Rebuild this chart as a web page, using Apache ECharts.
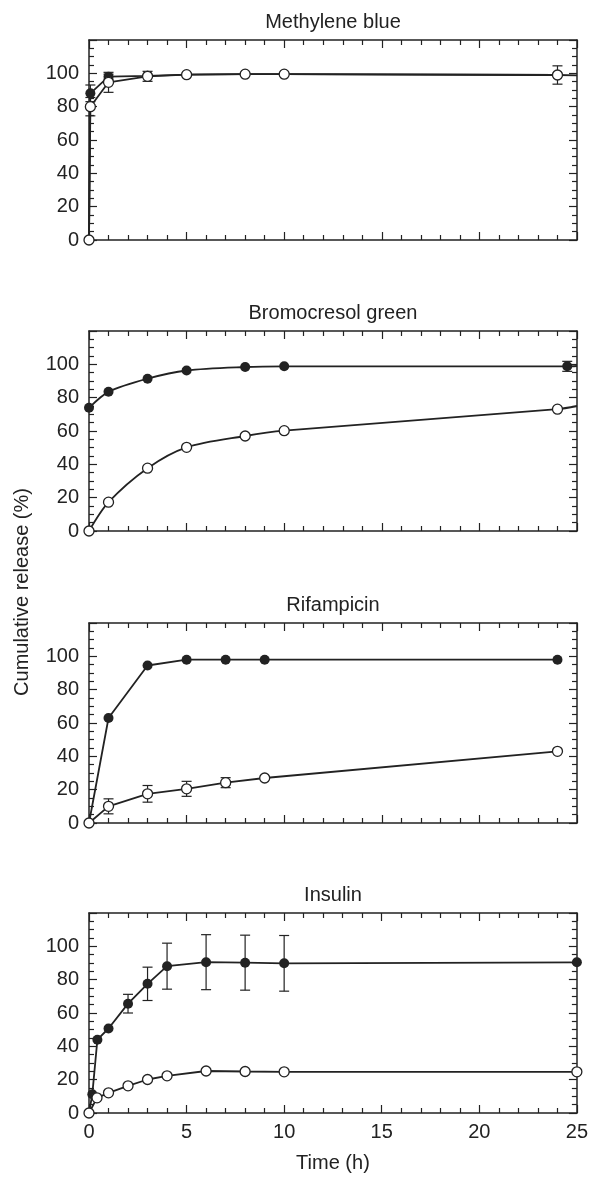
<!DOCTYPE html>
<html>
<head>
<meta charset="utf-8">
<script src="https://cdn.jsdelivr.net/npm/echarts@6/dist/echarts.min.js"></script>
<style>
  html, body { margin: 0; padding: 0; background: #fff; }
  #chart { width: 591px; height: 1180px; }
</style>
</head>
<body>
<div id="chart"></div>
<script>
// ---- data ----
// Methylene blue
var mbTime = [0, 0.07, 1, 3, 5, 8, 10, 24];
var mbFilled = [0, 88, 98, 98.5, 99.2, 99.5, 99.5, 99];
var mbFilledErr = [0, 5, 1.5, 0, 0, 0, 0, 0];
var mbOpen = [0, 80, 94.6, 98.2, 99.2, 99.5, 99.5, 99];
var mbOpenErr = [0, 5.5, 6, 3, 0, 0, 0, 5.5];
var mbFilledEnd = [25, 98.8];   // line runs on to the frame
var mbOpenEnd = null;

// Bromocresol green
var bcgFilledTime = [0, 1, 3, 5, 8, 10, 24.5];
var bcgFilled = [73.9, 83.5, 91.4, 96.3, 98.4, 98.8, 98.8];
var bcgFilledErr = [0, 0, 0, 0, 0, 0, 3];
var bcgOpenTime = [0, 1, 3, 5, 8, 10, 24];
var bcgOpen = [0, 17.3, 37.7, 50.2, 57, 60.2, 73.1];
var bcgOpenErr = [0, 0, 0, 0, 0, 0, 0];
var bcgFilledEnd = [25, 99];
var bcgOpenEnd = [25, 75];

// Rifampicin
var rifTime = [0, 1, 3, 5, 7, 9, 24];
var rifFilled = [0, 63, 94.5, 98, 98, 98, 98];
var rifFilledErr = [0, 0, 0, 0, 0, 0, 0];
var rifOpen = [0, 10, 17.5, 20.5, 24.2, 27, 43];
var rifOpenErr = [0, 4.5, 5, 4.5, 3, 0, 0];

// Insulin
var insFilledTime = [0, 0.17, 0.43, 1, 2, 3, 4, 6, 8, 10, 25];
var insFilled = [0, 11.3, 44, 50.7, 65.6, 77.5, 88.1, 90.5, 90.2, 89.8, 90.4];
var insFilledErr = [0, 0, 0, 0, 5.6, 10, 13.8, 16.5, 16.5, 16.7, 0];
var insOpenTime = [0, 0.41, 1, 2, 3, 4, 6, 8, 10, 25];
var insOpen = [0, 9.1, 12.1, 16.3, 20.1, 22.3, 25.2, 24.9, 24.7, 24.7];
var insOpenErr = [0, 0, 0, 0, 0, 0, 0, 0, 0, 0];

var titles = ['Methylene blue', 'Bromocresol green', 'Rifampicin', 'Insulin'];
var xTicks = [0, 5, 10, 15, 20, 25];
var yTicks = [0, 20, 40, 60, 80, 100];

// ---- layout ----
var INK = '#222';
var FONT = 'Liberation Sans, Arial, Helvetica, sans-serif';
var gridTops = [40, 331, 623, 913];
var gridH = 200;
var gridLeft = 89, gridRight = 14;

var panels = [
    {ft: mbTime, fv: mbFilled, fe: mbFilledErr, fEnd: mbFilledEnd,
     ot: mbTime, ov: mbOpen, oe: mbOpenErr, oEnd: mbOpenEnd, smooth: false},
    {ft: bcgFilledTime, fv: bcgFilled, fe: bcgFilledErr, fEnd: bcgFilledEnd,
     ot: bcgOpenTime, ov: bcgOpen, oe: bcgOpenErr, oEnd: bcgOpenEnd, smooth: 0.3},
    {ft: rifTime, fv: rifFilled, fe: rifFilledErr, fEnd: null,
     ot: rifTime, ov: rifOpen, oe: rifOpenErr, oEnd: null, smooth: false},
    {ft: insFilledTime, fv: insFilled, fe: insFilledErr, fEnd: null,
     ot: insOpenTime, ov: insOpen, oe: insOpenErr, oEnd: null, smooth: false}
];

function pts(t, v) {
    return t.map(function (x, i) { return [x, v[i]]; });
}
function errs(t, v, e) {
    var out = [];
    t.forEach(function (x, i) {
        if (e[i] > 0) out.push([x, v[i] - e[i], v[i] + e[i]]);
    });
    return out;
}

function renderErr(params, api) {
    var x = api.value(0);
    var lo = api.coord([x, api.value(1)]);
    var hi = api.coord([x, api.value(2)]);
    var w = 5;
    var st = {stroke: INK, lineWidth: 1.2};
    return {
        type: 'group',
        children: [
            {type: 'line', shape: {x1: hi[0], y1: hi[1], x2: lo[0], y2: lo[1]}, style: st},
            {type: 'line', shape: {x1: hi[0] - w, y1: hi[1], x2: hi[0] + w, y2: hi[1]}, style: st},
            {type: 'line', shape: {x1: lo[0] - w, y1: lo[1], x2: lo[0] + w, y2: lo[1]}, style: st}
        ]
    };
}

var grids = [], xAxes = [], yAxes = [], series = [], graphics = [];
var axisLine = {show: true, onZero: false, lineStyle: {color: INK, width: 1.5}};
var tick = {show: true, inside: true, length: 8, lineStyle: {color: INK, width: 1.2}};

panels.forEach(function (p, k) {
    grids.push({left: gridLeft, right: gridRight, top: gridTops[k], height: gridH});

    var isLast = k === panels.length - 1;
    ['bottom', 'top'].forEach(function (pos) {
        xAxes.push({
            type: 'value', gridIndex: k, position: pos,
            min: 0, max: 25, interval: 5,
            axisLine: axisLine, axisTick: tick,
            minorTick: {show: true, splitNumber: 5, length: 5, lineStyle: {color: INK, width: 1.2}},
            splitLine: {show: false},
            axisLabel: {
                show: isLast && pos === 'bottom', margin: 9,
                color: INK, fontSize: 20, fontFamily: FONT,
                formatter: function (v) { return xTicks.indexOf(v) >= 0 ? String(v) : ''; }
            },
            name: isLast && pos === 'bottom' ? 'Time (h)' : '',
            nameLocation: 'middle', nameGap: 40,
            nameTextStyle: {color: INK, fontSize: 20, fontFamily: FONT}
        });
    });
    ['left', 'right'].forEach(function (pos) {
        yAxes.push({
            type: 'value', gridIndex: k, position: pos,
            min: 0, max: 120, interval: 20,
            axisLine: axisLine, axisTick: tick,
            minorTick: {show: true, splitNumber: 4, length: 5, lineStyle: {color: INK, width: 1.2}},
            splitLine: {show: false},
            axisLabel: {
                show: pos === 'left', margin: 10,
                color: INK, fontSize: 20, fontFamily: FONT,
                formatter: function (v) { return yTicks.indexOf(v) >= 0 ? String(v) : ''; }
            }
        });
    });

    var xi = k * 2, yi = k * 2;
    var fLine = pts(p.ft, p.fv);
    if (p.fEnd) fLine.push(p.fEnd);
    var oLine = pts(p.ot, p.ov);
    if (p.oEnd) oLine.push(p.oEnd);

    [fLine, oLine].forEach(function (d) {
        series.push({
            type: 'line', xAxisIndex: xi, yAxisIndex: yi, data: d,
            showSymbol: false, smooth: p.smooth,
            lineStyle: {color: INK, width: 1.8}, silent: true, z: 2
        });
    });
    [errs(p.ft, p.fv, p.fe), errs(p.ot, p.ov, p.oe)].forEach(function (d) {
        series.push({
            type: 'custom', xAxisIndex: xi, yAxisIndex: yi, data: d,
            renderItem: renderErr, encode: {x: 0, y: [1, 2]}, z: 3, silent: true
        });
    });
    series.push({
        type: 'scatter', xAxisIndex: xi, yAxisIndex: yi, data: pts(p.ft, p.fv),
        symbol: 'circle', symbolSize: 10,
        itemStyle: {color: INK, opacity: 1}, z: 4, silent: true
    });
    series.push({
        type: 'scatter', xAxisIndex: xi, yAxisIndex: yi, data: pts(p.ot, p.ov),
        symbol: 'circle', symbolSize: 10,
        itemStyle: {color: '#fff', borderColor: INK, borderWidth: 1.3, opacity: 1}, z: 5, silent: true
    });

    graphics.push({
        type: 'text', x: gridLeft + (591 - gridLeft - gridRight) / 2, y: gridTops[k] - 18,
        style: {text: titles[k], fill: INK, font: '20px ' + FONT, textAlign: 'center', textVerticalAlign: 'middle'}
    });
});

graphics.push({
    type: 'text', x: 22, y: 592, rotation: Math.PI / 2,
    style: {text: 'Cumulative release (%)', fill: INK, font: '20px ' + FONT, textAlign: 'center', textVerticalAlign: 'middle'}
});

var chart = echarts.init(document.getElementById('chart'));
chart.setOption({
    animation: false,
    backgroundColor: '#fff',
    grid: grids,
    xAxis: xAxes,
    yAxis: yAxes,
    series: series,
    graphic: graphics
});
window.addEventListener('resize', chart.resize);
</script>
</body>
</html>
